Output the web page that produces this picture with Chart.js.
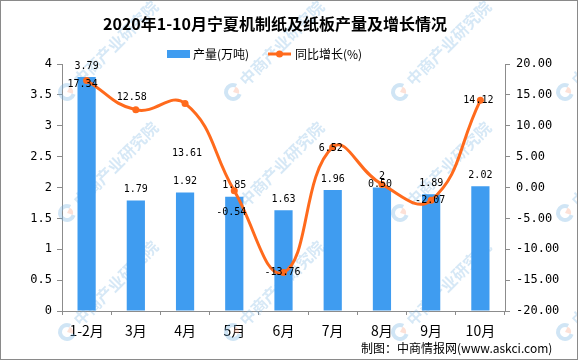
<!DOCTYPE html>
<html>
<head>
<meta charset="utf-8">
<script src="https://cdn.jsdelivr.net/npm/chart.js@4.4.1/dist/chart.umd.min.js"></script>
<style>
  html, body { margin: 0; padding: 0; background: #fff; }
  #wrap { width: 578px; height: 360px; }
</style>
</head>
<body>
<div id="wrap"><canvas id="chart" width="578" height="360"></canvas></div>
<script>
// data
const months = ["1-2月", "3月", "4月", "5月", "6月", "7月", "8月", "9月", "10月"];
const output = [3.79, 1.79, 1.92, 1.85, 1.63, 1.96, 2, 1.89, 2.02];
const growth = [17.34, 12.58, 13.61, -0.54, -13.76, 6.52, 0.50, -2.07, 14.12];

const blue = "#3F9CF0";
const orange = "#FF6A1C";
const axisGrey = "#8c8c8c";
const mono = "'DejaVu Sans Mono', monospace";
const cjk = "'Noto Sans CJK SC', sans-serif";

// where the original chart nudged its line labels
const lineLabelDx = [-4, -4, 2, -3, -1, -2, -2, -1, -2];
const lineLabelDy = [4, -12, 50, 22, 0, 1, 0, 0, 0];

const watermark = {
  id: "watermark",
  beforeDatasetsDraw(chart) {
    const ctx = chart.ctx;
    const xs = [67, 233, 400, 565];
    const ys = [92, 213, 332];
    ctx.save();
    for (const lx of xs) {
      for (const ly of ys) {
        ctx.save();
        ctx.translate(lx, ly);
        ctx.rotate(-Math.PI / 4);
        ctx.lineWidth = 4;
        ctx.strokeStyle = "rgba(120,180,225,0.35)";
        ctx.beginPath();
        ctx.arc(0, 0, 7, Math.PI * 0.35, Math.PI * 1.9);
        ctx.stroke();
        ctx.fillStyle = "rgba(250,170,140,0.35)";
        ctx.beginPath();
        ctx.moveTo(0, 0);
        ctx.arc(0, 0, 6, -Math.PI * 0.1, Math.PI * 0.35);
        ctx.fill();
        ctx.fillStyle = "rgba(120,180,225,0.3)";
        ctx.font = "bold 16px " + cjk;
        ctx.textBaseline = "middle";
        ctx.fillText("中商产业研究院", 13, 0);
        ctx.restore();
      }
    }
    ctx.restore();
  },
};

const decorations = {
  id: "decorations",
  afterDatasetsDraw(chart) {
    const ctx = chart.ctx;
    ctx.save();
    ctx.fillStyle = "#000";
    ctx.textAlign = "center";
    ctx.textBaseline = "middle";
    ctx.font = "10px " + mono;

    chart.getDatasetMeta(0).data.forEach((bar, i) => {
      ctx.fillText(String(output[i]), bar.x, bar.y - 11);
    });
    chart.getDatasetMeta(1).data.forEach((pt, i) => {
      ctx.fillText(growth[i].toFixed(2), pt.x + lineLabelDx[i], pt.y + lineLabelDy[i]);
    });
    ctx.restore();
  },
  afterDraw(chart) {
    const ctx = chart.ctx;
    ctx.save();
    // title
    ctx.fillStyle = "#000";
    ctx.textAlign = "center";
    ctx.textBaseline = "middle";
    ctx.font = "bold 16px " + cjk;
    ctx.fillText("2020年1-10月宁夏机制纸及纸板产量及增长情况", 275, 24);

    // legend
    ctx.textAlign = "left";
    ctx.font = "12px " + cjk;
    ctx.fillStyle = blue;
    ctx.fillRect(167, 50, 23, 8);
    ctx.fillStyle = "#000";
    ctx.fillText("产量(万吨)", 193, 54);
    ctx.strokeStyle = orange;
    ctx.lineWidth = 3;
    ctx.beginPath();
    ctx.moveTo(268, 54);
    ctx.lineTo(291, 54);
    ctx.stroke();
    ctx.fillStyle = orange;
    ctx.beginPath();
    ctx.arc(279.5, 54, 3.5, 0, Math.PI * 2);
    ctx.fill();
    ctx.fillStyle = "#000";
    ctx.fillText("同比增长(%)", 295, 54);

    // source
    ctx.font = "12px " + cjk;
    ctx.fillText("制图：中商情报网(www.askci.com)", 361, 348);

    // frame
    ctx.strokeStyle = "#8a8a8a";
    ctx.lineWidth = 1;
    ctx.strokeRect(0.5, 0.5, 577, 359);
    ctx.restore();
  },
};

const ctx = document.getElementById("chart").getContext("2d");

const chart = new Chart(ctx, {
  data: {
    labels: months,
    datasets: [
      {
        type: "bar",
        label: "产量(万吨)",
        data: output,
        backgroundColor: blue,
        yAxisID: "y",
        categoryPercentage: 1,
        barPercentage: 0.37,
        order: 2,
      },
      {
        type: "line",
        label: "同比增长(%)",
        data: growth,
        yAxisID: "y1",
        borderColor: orange,
        backgroundColor: orange,
        borderWidth: 3,
        tension: 0.45,
        pointRadius: 3.5,
        pointBorderWidth: 0,
        pointBackgroundColor: orange,
        order: 1,
      },
    ],
  },
  options: {
    responsive: false,
    animation: false,
    devicePixelRatio: 1,
    layout: { padding: { top: 64, left: 0, right: 0, bottom: 0 } },
    plugins: {
      legend: { display: false },
      title: { display: false },
      tooltip: { enabled: false },
    },
    scales: {
      x: {
        offset: true,
        grid: { display: true, offset: true, drawOnChartArea: false, tickLength: 4, color: axisGrey },
        border: { color: axisGrey },
        ticks: { color: "#000", font: { family: cjk, size: 14 }, padding: 7 },
        afterFit: (s) => { s.height = 49; },
      },
      y: {
        position: "left",
        min: 0,
        max: 4,
        grid: { display: true, drawOnChartArea: false, tickLength: 5, color: axisGrey },
        border: { color: axisGrey },
        ticks: {
          stepSize: 0.5,
          color: "#000",
          font: { family: mono, size: 12 },
          padding: 5,
          callback: (v) => String(v),
        },
        afterFit: (s) => { s.width = 62; },
      },
      y1: {
        position: "right",
        min: -20,
        max: 20,
        grid: { display: true, drawOnChartArea: false, tickLength: 5, color: axisGrey },
        border: { color: axisGrey },
        ticks: {
          stepSize: 5,
          color: "#000",
          font: { family: mono, size: 12 },
          padding: 6,
          callback: (v) => v.toFixed(2),
        },
        afterFit: (s) => { s.width = 73; },
      },
    },
  },
  plugins: [watermark, decorations],
});
</script>
</body>
</html>
